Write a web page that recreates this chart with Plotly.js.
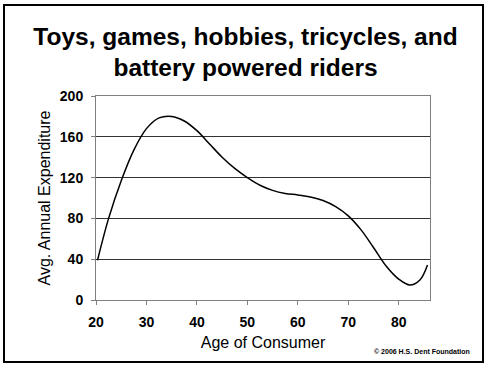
<!DOCTYPE html>
<html>
<head>
<meta charset="utf-8">
<script src="https://cdn.plot.ly/plotly-3.0.1.min.js"></script>
<style>html,body{margin:0;padding:0;background:#fff;}#chart{width:491px;height:369px;}</style>
</head>
<body>
<div id="chart"></div>
<script>
var ages = [20.3, 22.5, 25, 27.5, 30, 32.5, 35, 37.5, 40, 42.5, 45, 47.5, 50, 52.5, 55, 57.5, 60, 62.5, 65, 67.5, 70, 72.5, 75, 77.5, 80, 82.2, 84.2, 85.7];
var spending = [39, 80, 117, 147, 168, 178.5, 180, 175.5, 166, 153, 140, 129, 120, 112.5, 107.5, 104.5, 103, 101, 97.5, 91.5, 82.5, 69, 51.5, 33.4, 20.5, 14.7, 19.6, 34.3];
var xTicks = [20, 30, 40, 50, 60, 70, 80];
var yTicks = [0, 40, 80, 120, 160, 200];

var font = 'Arial, "Liberation Sans", sans-serif';

var trace = {
  x: ages, y: spending, type: 'scatter', mode: 'lines',
  line: {color: '#000', width: 1.5, shape: 'spline', smoothing: 1},
  hoverinfo: 'skip'
};

var layout = {
  width: 491, height: 369,
  margin: {l: 96, r: 61, t: 96, b: 69},
  paper_bgcolor: '#fff', plot_bgcolor: '#fff',
  showlegend: false,
  title: {
    text: 'Toys, games, hobbies, tricycles, and<br>battery powered riders',
    font: {family: font, size: 24.5, color: '#000', weight: 'bold'},
    x: 0.5, xref: 'container', xanchor: 'center',
    y: 1 - 44.5/369, yref: 'container', yanchor: 'middle'
  },
  xaxis: {
    range: [20, 86.2], tickvals: xTicks, ticktext: xTicks.map(String),
    showgrid: false, zeroline: false,
    showline: true, linecolor: '#808080', linewidth: 1, mirror: true,
    ticks: 'outside', ticklen: 4, tickcolor: '#808080', ticklabelstandoff: 5,
    tickfont: {family: font, size: 14, color: '#000', weight: 'bold'},
    title: {text: 'Age of Consumer', font: {family: font, size: 16, color: '#000'}, standoff: 8}
  },
  yaxis: {
    range: [0, 200], tickvals: yTicks, ticktext: yTicks.map(String),
    showgrid: true, gridcolor: '#333', gridwidth: 1, zeroline: false,
    showline: true, linecolor: '#808080', linewidth: 1, mirror: true,
    ticks: 'outside', ticklen: 4, tickcolor: '#808080', ticklabelstandoff: 5,
    tickfont: {family: font, size: 14, color: '#000', weight: 'bold'},
    title: {text: 'Avg. Annual Expenditure', font: {family: font, size: 16, color: '#000'}, standoff: 5}
  },
  shapes: [{
    type: 'rect', xref: 'paper', yref: 'paper',
    x0: (4-96)/334, x1: (483-96)/334, y0: (300-362)/204, y1: (300-5)/204,
    line: {color: '#000', width: 2}, fillcolor: 'rgba(0,0,0,0)'
  }],
  annotations: [{
    text: '© 2006 H.S. Dent Foundation', showarrow: false,
    xref: 'paper', yref: 'paper', x: (472-96)/334, y: (300-351)/204,
    xanchor: 'right', yanchor: 'middle',
    font: {family: font, size: 7, color: '#000', weight: 'bold'}
  }]
};

Plotly.newPlot('chart', [trace], layout, {staticPlot: true, displayModeBar: false});
</script>
</body>
</html>
